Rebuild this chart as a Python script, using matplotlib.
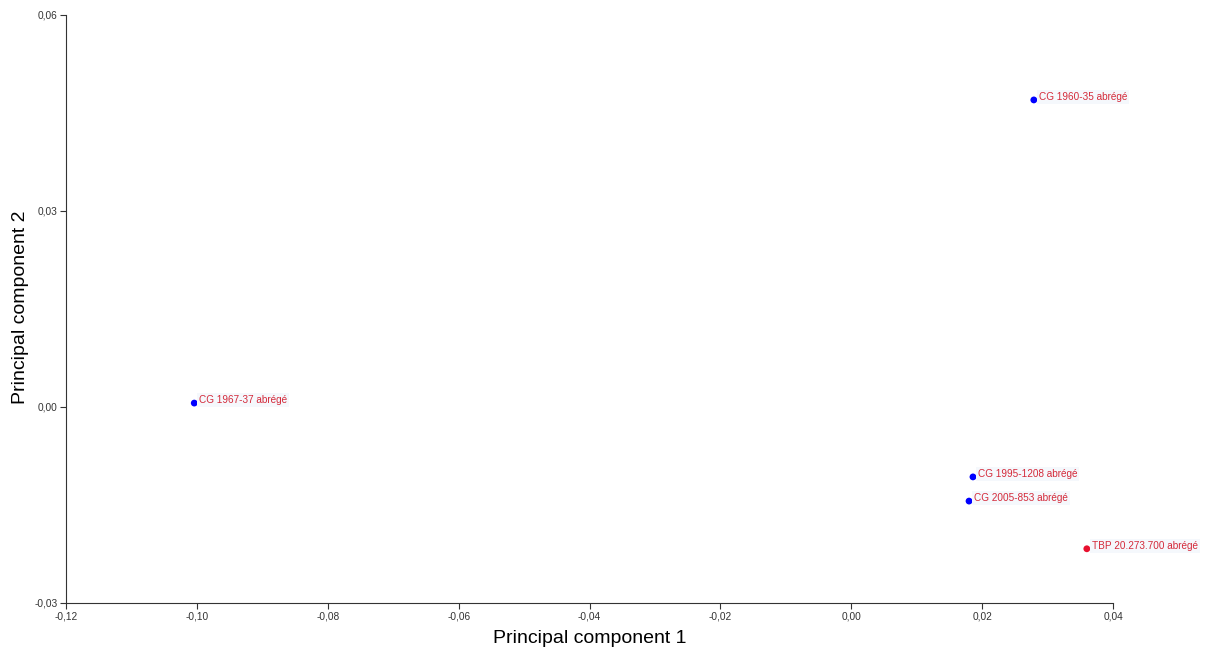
import matplotlib
matplotlib.use("Agg")
import matplotlib.pyplot as plt
from matplotlib.ticker import FuncFormatter, MultipleLocator

labels = ["CG 1960-35 abrégé", "CG 1967-37 abrégé", "CG 1995-1208 abrégé",
          "CG 2005-853 abrégé", "TBP 20.273.700 abrégé"]
pc1 = [0.0279, -0.1004, 0.0186, 0.0180, 0.0360]
pc2 = [0.0470, 0.0006, -0.0107, -0.0144, -0.0217]
colors = ["#0000ff", "#0000ff", "#0000ff", "#0000ff", "#e8102e"]

plt.rcParams['font.family'] = ['Liberation Sans', 'DejaVu Sans']

fig = plt.figure(figsize=(12.05, 6.53), dpi=100)
ax = fig.add_axes([66/1205, 1-603/653, (1113-66)/1205, (603-15)/653])

ax.scatter(pc1, pc2, c=colors, s=24, zorder=3, linewidths=0)
for x, y, t in zip(pc1, pc2, labels):
    ax.annotate(t, (x, y), xytext=(3.5, 2), textcoords="offset points",
                fontsize=7.2, color="#d42a3a", va="center", ha="left",
                bbox=dict(boxstyle="square,pad=0.2", fc="#f5f8fc", ec="none"))

ax.set_xlim(-0.12, 0.04)
ax.set_ylim(-0.03, 0.06)
ax.xaxis.set_major_locator(MultipleLocator(0.02))
ax.yaxis.set_major_locator(MultipleLocator(0.03))
fmt = FuncFormatter(lambda v, p: f"{v:.2f}".replace(".", ",").replace("-0,00", "0,00"))
ax.xaxis.set_major_formatter(fmt)
ax.yaxis.set_major_formatter(fmt)
ax.tick_params(labelsize=7.3, length=4, width=0.8, pad=2, color="#333333", labelcolor="#333333")
for s in ["top", "right"]:
    ax.spines[s].set_visible(False)
for s in ["left", "bottom"]:
    ax.spines[s].set_color("#333333")
    ax.spines[s].set_linewidth(0.8)

ax.set_xlabel("Principal component 1", fontsize=14)
ax.set_ylabel("Principal component 2", fontsize=14)
ax.xaxis.set_label_coords((590-66)/(1113-66), -(630-603)/(603-15))
ax.yaxis.set_label_coords(-(66-29)/(1113-66), (603-307)/(603-15))

fig.savefig("out.png", dpi=100)
